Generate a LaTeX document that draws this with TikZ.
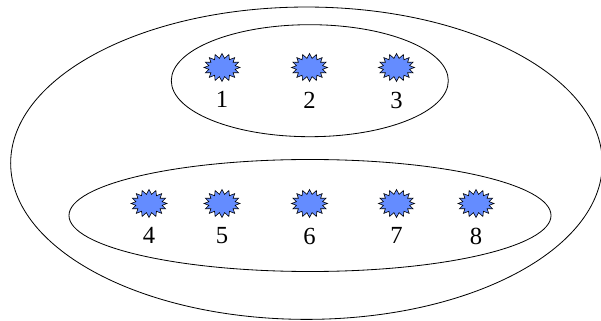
\documentclass[tikz,border=0pt]{standalone}
\usepackage{fontspec}
\setmainfont{Liberation Serif}
\usetikzlibrary{shapes.geometric,shapes.symbols}
\definecolor{burstblue}{RGB}{100,140,255}

\begin{document}
\begin{tikzpicture}[
    x=0.03cm, y=-0.03cm,
    every node/.style={font=\fontsize{21}{24}\selectfont},
    group/.style={draw=black, ellipse, inner sep=0pt, line width=0.7pt},
    burst/.style={draw=black, fill=burstblue, starburst, starburst points=16,
                  starburst point height=0.14cm, random starburst=0,
                  inner sep=0pt, minimum width=1.08cm, minimum height=0.84cm,
                  line width=0.5pt,
                  label={[inner sep=0pt, label distance=8pt]below:#1}},
]
\useasboundingbox (0,0) rectangle (601,321);

% Enclosing sets
\node[group, minimum width=17.75cm, minimum height=9.37cm] (outer)  at (306.5,163.2) {};
\node[group, minimum width=8.31cm, minimum height=3.36cm]  (upper)  at (309.8,80.7)  {};
\node[group, minimum width=14.46cm, minimum height=3.36cm] (lower)  at (310,215.5)   {};

% Upper row
\node[burst=1] (e1) at (222,67.5) {};
\node[burst=2] (e2) at (309.5,67.5) {};
\node[burst=3] (e3) at (396.5,67.5) {};

% Lower row
\node[burst=4] (e4) at (149,203.5) {};
\node[burst=5] (e5) at (222,203.5) {};
\node[burst=6] (e6) at (309.5,203.5) {};
\node[burst=7] (e7) at (396.5,203.5) {};
\node[burst=8] (e8) at (476,203.5) {};
\end{tikzpicture}
\end{document}
